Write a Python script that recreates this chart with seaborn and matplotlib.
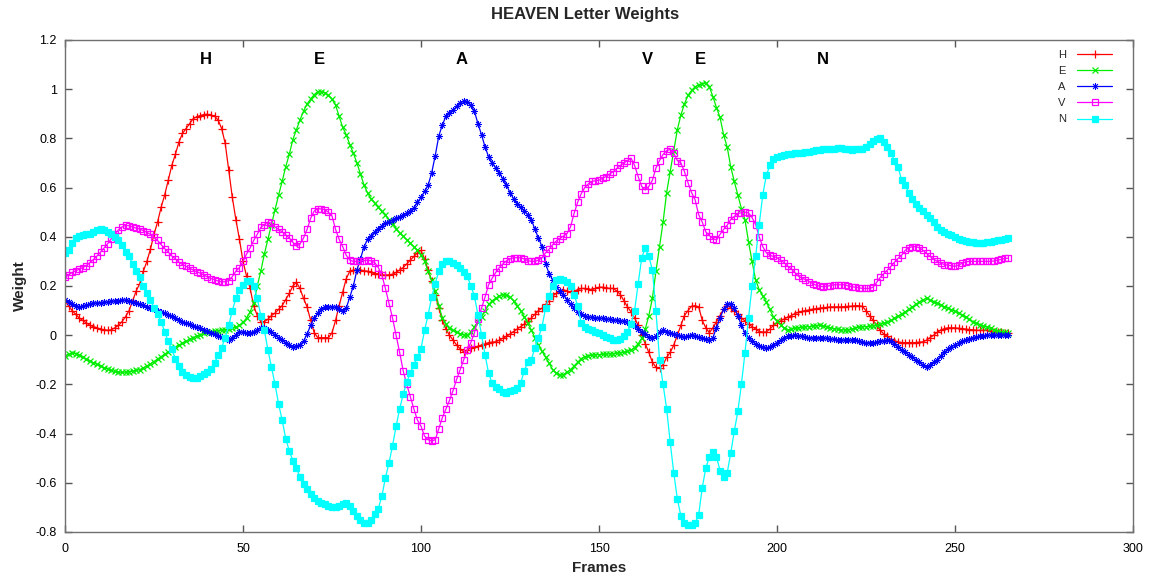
import numpy as np
import pandas as pd
import seaborn as sns
import matplotlib
matplotlib.use("Agg")
import matplotlib.pyplot as plt
from matplotlib.ticker import FuncFormatter

# ---- data: per-frame weight of each letter ----
frames = list(range(266))

weight_H = [
    0.14, 0.12, 0.10, 0.085, 0.07, 0.06, 0.05, 0.04, 0.035, 0.03,
    0.025, 0.022, 0.02, 0.022, 0.03, 0.04, 0.055, 0.075, 0.10, 0.14,
    0.18, 0.21, 0.26, 0.30, 0.35, 0.41, 0.46, 0.52, 0.57, 0.63,
    0.69, 0.735, 0.785, 0.82, 0.84, 0.86, 0.88, 0.888, 0.893, 0.897,
    0.898, 0.895, 0.89, 0.875, 0.84, 0.78, 0.67, 0.56, 0.47, 0.39,
    0.30, 0.24, 0.19, 0.12, 0.08, 0.055, 0.055, 0.065, 0.08, 0.09,
    0.105, 0.12, 0.145, 0.17, 0.2, 0.215, 0.19, 0.15, 0.115, 0.06,
    0.01, -0.01, -0.01, -0.01, -0.01, 0.01, 0.06, 0.12, 0.175, 0.23,
    0.26, 0.265, 0.265, 0.265, 0.262, 0.26, 0.255, 0.25, 0.25, 0.245,
    0.245, 0.245, 0.248, 0.255, 0.265, 0.275, 0.29, 0.305, 0.32, 0.335,
    0.345, 0.31, 0.265, 0.22, 0.165, 0.11, 0.06, 0.025, 0.0, -0.02,
    -0.04, -0.055, -0.068, -0.06, -0.05, -0.048, -0.045, -0.04, -0.035, -0.03,
    -0.028, -0.027, -0.02, -0.012, -0.005, 0.005, 0.015, 0.025, 0.035, 0.045,
    0.057, 0.07, 0.085, 0.10, 0.11, 0.125, 0.14, 0.16, 0.17, 0.18,
    0.185, 0.18, 0.175, 0.178, 0.185, 0.19, 0.19, 0.188, 0.185, 0.19,
    0.195, 0.195, 0.193, 0.19, 0.19, 0.18, 0.165, 0.14, 0.115, 0.095,
    0.07, 0.04, 0.0, -0.035, -0.07, -0.11, -0.13, -0.135, -0.12, -0.09,
    -0.07, -0.04, 0.0, 0.04, 0.08, 0.10, 0.118, 0.12, 0.115, 0.06,
    0.03, 0.01, 0.03, 0.055, 0.08, 0.105, 0.12, 0.112, 0.10, 0.085,
    0.07, 0.058, 0.045, 0.035, 0.025, 0.015, 0.013, 0.013, 0.025, 0.04,
    0.05, 0.058, 0.066, 0.073, 0.08, 0.088, 0.093, 0.097, 0.10, 0.103,
    0.106, 0.108, 0.11, 0.112, 0.113, 0.115, 0.115, 0.115, 0.115, 0.116,
    0.117, 0.118, 0.12, 0.12, 0.117, 0.10, 0.08, 0.06, 0.04, 0.02,
    0.005, -0.005, -0.017, -0.022, -0.027, -0.03, -0.03, -0.03, -0.03, -0.03,
    -0.028, -0.027, -0.02, -0.01, 0.0, 0.012, 0.02, 0.027, 0.03, 0.03,
    0.03, 0.028, 0.027, 0.025, 0.023, 0.022, 0.02, 0.02, 0.02, 0.02,
    0.018, 0.015, 0.013, 0.012, 0.01, 0.008,
]

weight_E = [
    -0.085, -0.078, -0.073, -0.075, -0.082, -0.09, -0.098, -0.105, -0.112, -0.118,
    -0.125, -0.132, -0.138, -0.143, -0.147, -0.15, -0.151, -0.15, -0.148, -0.146,
    -0.143, -0.14, -0.133, -0.125, -0.116, -0.107, -0.097, -0.087, -0.077, -0.068,
    -0.058, -0.049, -0.041, -0.033, -0.025, -0.017, -0.01, -0.004, 0.002, 0.007,
    0.011, 0.014, 0.017, 0.019, 0.021, 0.023, 0.025, 0.028, 0.032, 0.04,
    0.052, 0.07, 0.095, 0.13, 0.2, 0.26, 0.33, 0.39, 0.45, 0.51,
    0.57, 0.625, 0.685, 0.735, 0.795, 0.835, 0.875, 0.91, 0.94, 0.96,
    0.978, 0.99, 0.99, 0.985, 0.975, 0.96, 0.935, 0.89, 0.845, 0.815,
    0.775, 0.74, 0.70, 0.655, 0.61, 0.578, 0.555, 0.537, 0.52, 0.503,
    0.49, 0.47, 0.452, 0.433, 0.415, 0.402, 0.388, 0.374, 0.36, 0.345,
    0.325, 0.3, 0.26, 0.225, 0.18, 0.12, 0.07, 0.045, 0.03, 0.02,
    0.012, 0.006, 0.002, 0.0, 0.012, 0.035, 0.055, 0.075, 0.1, 0.125,
    0.14, 0.15, 0.16, 0.165, 0.163, 0.155, 0.14, 0.12, 0.1, 0.075,
    0.05, 0.02, -0.01, -0.04, -0.065, -0.09, -0.115, -0.14, -0.155, -0.162,
    -0.16, -0.15, -0.14, -0.125, -0.11, -0.095, -0.087, -0.083, -0.081, -0.08,
    -0.079, -0.078, -0.077, -0.076, -0.075, -0.073, -0.071, -0.069, -0.066, -0.06,
    -0.05, -0.035, -0.012, 0.025, 0.08, 0.15, 0.26, 0.36, 0.46, 0.58,
    0.665, 0.75, 0.835, 0.895, 0.94, 0.975, 0.995, 1.01, 1.018, 1.023,
    1.025, 1.01, 0.97, 0.925, 0.885, 0.815, 0.765, 0.685, 0.625, 0.57,
    0.515, 0.47, 0.38, 0.3, 0.225, 0.185, 0.16, 0.135, 0.105, 0.075,
    0.058, 0.042, 0.03, 0.022, 0.024, 0.028, 0.03, 0.032, 0.034, 0.035,
    0.037, 0.039, 0.04, 0.037, 0.033, 0.03, 0.027, 0.024, 0.022, 0.021,
    0.022, 0.025, 0.029, 0.033, 0.034, 0.035, 0.036, 0.038, 0.04, 0.044,
    0.048, 0.053, 0.06, 0.068, 0.077, 0.086, 0.095, 0.105, 0.115, 0.125,
    0.135, 0.143, 0.15, 0.143, 0.136, 0.13, 0.123, 0.116, 0.11, 0.104,
    0.097, 0.09, 0.082, 0.073, 0.064, 0.055, 0.049, 0.043, 0.038, 0.033,
    0.028, 0.022, 0.016, 0.013, 0.011, 0.01,
]

weight_A = [
    0.145, 0.135, 0.125, 0.117, 0.115, 0.118, 0.122, 0.126, 0.13, 0.131,
    0.132, 0.134, 0.135, 0.137, 0.139, 0.141, 0.143, 0.142, 0.14, 0.135,
    0.13, 0.126, 0.121, 0.116, 0.111, 0.106, 0.1, 0.095, 0.09, 0.084,
    0.077, 0.07, 0.062, 0.055, 0.05, 0.044, 0.038, 0.033, 0.028, 0.022,
    0.016, 0.01, 0.003, -0.004, -0.008, -0.012, -0.018, -0.01, 0.0, 0.012,
    0.012, 0.01, 0.009, 0.015, 0.022, 0.03, 0.028, 0.02, 0.013, 0.002,
    -0.01, -0.02, -0.03, -0.04, -0.047, -0.045, -0.038, -0.025, 0.005, 0.04,
    0.07, 0.09, 0.105, 0.113, 0.115, 0.115, 0.113, 0.105, 0.1, 0.11,
    0.155, 0.2, 0.265, 0.31, 0.36, 0.39, 0.405, 0.42, 0.432, 0.445,
    0.455, 0.462, 0.47, 0.476, 0.482, 0.488, 0.495, 0.505, 0.518, 0.54,
    0.56, 0.585, 0.61, 0.66, 0.73, 0.81, 0.855, 0.89, 0.905, 0.915,
    0.93, 0.943, 0.953, 0.95, 0.935, 0.91, 0.86, 0.815, 0.765, 0.725,
    0.7, 0.68, 0.66, 0.635, 0.61, 0.58, 0.555, 0.535, 0.52, 0.505,
    0.49, 0.47, 0.43, 0.395, 0.36, 0.29, 0.25, 0.225, 0.195, 0.18,
    0.165, 0.145, 0.125, 0.11, 0.095, 0.085, 0.077, 0.074, 0.072, 0.071,
    0.07, 0.068, 0.066, 0.065, 0.063, 0.061, 0.059, 0.057, 0.053, 0.047,
    0.038, 0.027, 0.015, 0.003, -0.006, -0.01, -0.005, 0.012, 0.02, 0.015,
    0.01, 0.006, 0.002, -0.004, -0.006, -0.003, 0.0, -0.004, -0.009, -0.012,
    -0.016, -0.02, -0.01, 0.03, 0.07, 0.105, 0.125, 0.128, 0.11, 0.08,
    0.04, 0.01, -0.01, -0.025, -0.035, -0.043, -0.049, -0.052, -0.048, -0.04,
    -0.03, -0.02, -0.01, -0.005, -0.002, 0.0, -0.002, -0.005, -0.008, -0.01,
    -0.01, -0.01, -0.01, -0.011, -0.013, -0.015, -0.017, -0.019, -0.02, -0.02,
    -0.02, -0.02, -0.021, -0.025, -0.028, -0.03, -0.03, -0.03, -0.028, -0.025,
    -0.022, -0.02, -0.025, -0.035, -0.047, -0.06, -0.07, -0.08, -0.09, -0.1,
    -0.11, -0.12, -0.128, -0.12, -0.11, -0.1, -0.085, -0.07, -0.058, -0.047,
    -0.038, -0.031, -0.025, -0.019, -0.014, -0.01, -0.007, -0.004, -0.002, 0.0,
    0.0, 0.0, 0.0, 0.0, 0.0, 0.0,
]

weight_V = [
    0.235, 0.245, 0.255, 0.262, 0.268, 0.275, 0.283, 0.295, 0.308, 0.322,
    0.338, 0.355, 0.372, 0.392, 0.412, 0.428, 0.44, 0.446, 0.445, 0.44,
    0.435, 0.432, 0.425, 0.418, 0.41, 0.398, 0.385, 0.368, 0.352, 0.338,
    0.322, 0.31, 0.297, 0.287, 0.28, 0.272, 0.265, 0.258, 0.252, 0.245,
    0.237, 0.23, 0.226, 0.22, 0.217, 0.217, 0.222, 0.238, 0.26, 0.275,
    0.3, 0.33, 0.355, 0.385, 0.41, 0.438, 0.45, 0.46, 0.455, 0.44,
    0.43, 0.42, 0.408, 0.395, 0.378, 0.362, 0.37, 0.395, 0.43, 0.475,
    0.505, 0.515, 0.513, 0.51, 0.5, 0.485, 0.43, 0.39, 0.36, 0.325,
    0.305, 0.3, 0.3, 0.3, 0.303, 0.305, 0.302, 0.295, 0.275, 0.245,
    0.19, 0.13, 0.07, 0.0, -0.07, -0.145, -0.2, -0.25, -0.3, -0.345,
    -0.37, -0.41, -0.425, -0.43, -0.425, -0.38, -0.335, -0.3, -0.265, -0.225,
    -0.18, -0.14, -0.1, -0.06, -0.03, 0.01, 0.065, 0.11, 0.155, 0.205,
    0.232, 0.255, 0.275, 0.29, 0.302, 0.31, 0.315, 0.315, 0.315, 0.31,
    0.303, 0.3, 0.3, 0.305, 0.315, 0.335, 0.35, 0.368, 0.383, 0.393,
    0.403, 0.413, 0.44, 0.495, 0.54, 0.575, 0.6, 0.615, 0.625, 0.628,
    0.63, 0.638, 0.645, 0.655, 0.665, 0.678, 0.69, 0.7, 0.71, 0.72,
    0.69, 0.645, 0.605, 0.59, 0.605, 0.63, 0.68, 0.71, 0.735, 0.75,
    0.755, 0.74, 0.71, 0.7, 0.665, 0.62, 0.58, 0.55, 0.49, 0.46,
    0.42, 0.405, 0.393, 0.387, 0.41, 0.43, 0.447, 0.47, 0.483, 0.495,
    0.498, 0.5, 0.497, 0.478, 0.45, 0.4, 0.36, 0.335, 0.325, 0.32,
    0.315, 0.305, 0.295, 0.28, 0.27, 0.255, 0.24, 0.232, 0.226, 0.218,
    0.21, 0.203, 0.199, 0.197, 0.199, 0.202, 0.205, 0.205, 0.205, 0.205,
    0.2, 0.197, 0.195, 0.193, 0.19, 0.19, 0.19, 0.195, 0.215, 0.235,
    0.25, 0.265, 0.28, 0.297, 0.312, 0.325, 0.345, 0.355, 0.36, 0.36,
    0.355, 0.345, 0.333, 0.32, 0.31, 0.3, 0.293, 0.287, 0.285, 0.282,
    0.28, 0.285, 0.292, 0.298, 0.3, 0.3, 0.3, 0.3, 0.3, 0.3,
    0.3, 0.302, 0.305, 0.308, 0.312, 0.313,
]

weight_N = [
    0.335, 0.345, 0.375, 0.395, 0.405, 0.408, 0.41, 0.413, 0.418, 0.428,
    0.433, 0.428, 0.42, 0.413, 0.4, 0.385, 0.365, 0.34, 0.32, 0.29,
    0.26, 0.235, 0.2, 0.17, 0.145, 0.11, 0.085, 0.055, 0.015, -0.025,
    -0.057, -0.095, -0.125, -0.148, -0.16, -0.168, -0.174, -0.172, -0.165, -0.157,
    -0.15, -0.138, -0.115, -0.08, -0.05, -0.01, 0.04, 0.1, 0.15, 0.185,
    0.205, 0.22, 0.22, 0.2, 0.15, 0.08, 0.02, -0.06, -0.13, -0.2,
    -0.28, -0.345, -0.42, -0.47, -0.51, -0.54, -0.575, -0.605, -0.625, -0.645,
    -0.66, -0.675, -0.683, -0.688, -0.693, -0.697, -0.7, -0.695, -0.688, -0.683,
    -0.695, -0.715, -0.735, -0.752, -0.762, -0.765, -0.75, -0.725, -0.705, -0.655,
    -0.58, -0.52, -0.45, -0.37, -0.3, -0.24, -0.19, -0.155, -0.12, -0.09,
    -0.055, 0.02, 0.082, 0.155, 0.21, 0.26, 0.29, 0.303, 0.302, 0.295,
    0.285, 0.272, 0.258, 0.24, 0.2, 0.16, 0.082, 0.0, -0.08, -0.155,
    -0.195, -0.21, -0.22, -0.232, -0.235, -0.228, -0.222, -0.215, -0.195, -0.145,
    -0.11, -0.1, -0.05, -0.01, 0.035, 0.11, 0.16, 0.2, 0.225, 0.23,
    0.225, 0.215, 0.2, 0.165, 0.12, 0.05, 0.035, 0.027, 0.02, 0.015,
    0.009, 0.002, -0.007, -0.013, -0.018, -0.02, -0.015, -0.005, 0.015, 0.045,
    0.1, 0.21, 0.315, 0.355, 0.32, 0.265, 0.1, -0.1, -0.2, -0.3,
    -0.435, -0.56, -0.665, -0.735, -0.765, -0.772, -0.772, -0.765, -0.73, -0.62,
    -0.54, -0.495, -0.475, -0.495, -0.55, -0.575, -0.56, -0.48, -0.39, -0.31,
    -0.2, -0.072, 0.07, 0.2, 0.32, 0.45, 0.57, 0.65, 0.69, 0.715,
    0.725, 0.73, 0.732, 0.735, 0.737, 0.739, 0.74, 0.742, 0.744, 0.745,
    0.748, 0.751, 0.754, 0.755, 0.755, 0.756, 0.758, 0.76, 0.76, 0.758,
    0.755, 0.754, 0.755, 0.756, 0.758, 0.765, 0.778, 0.79, 0.797, 0.8,
    0.785, 0.765, 0.74, 0.71, 0.685, 0.63, 0.61, 0.58, 0.555, 0.533,
    0.518, 0.505, 0.49, 0.477, 0.462, 0.44, 0.427, 0.418, 0.413, 0.408,
    0.398, 0.39, 0.385, 0.382, 0.38, 0.378, 0.376, 0.375, 0.376, 0.378,
    0.38, 0.383, 0.386, 0.389, 0.392, 0.395,
]

series_names = ["H", "E", "A", "V", "N"]
series_values = [weight_H, weight_E, weight_A, weight_V, weight_N]

# letter labels placed over each letter's peak (frame, weight)
letter_text = ["H", "E", "A", "V", "E", "N"]
letter_frame = [39.5, 71.5, 111.5, 163.5, 178.5, 213.0]
letter_y = [1.12, 1.12, 1.12, 1.12, 1.12, 1.12]

x_ticks = [0, 50, 100, 150, 200, 250, 300]
y_ticks = [-0.8, -0.6, -0.4, -0.2, 0, 0.2, 0.4, 0.6, 0.8, 1.0, 1.2]

# ---- style ----
sns.set_theme(style="ticks")
plt.rcParams["font.family"] = ["Liberation Sans", "DejaVu Sans"]

line_styles = {
    "H": dict(color="#ff0000", marker="+", markersize=6, mfc="none", mew=0.9),
    "E": dict(color="#00ee00", marker="x", markersize=5, mfc="none", mew=0.9),
    "A": dict(color="#0000ff", marker=(8, 2, 0), markersize=5, mfc="none", mew=0.6),
    "V": dict(color="#ff00ff", marker="s", markersize=4.5, mfc="none", mew=0.9),
    "N": dict(color="#00ffff", marker="s", markersize=4.5, mfc="#00ffff", mew=0.9),
}

fig = plt.figure(figsize=(11.55, 5.82), dpi=100)
ax = fig.add_axes([65 / 1155, 1 - 532 / 582, 1068 / 1155, 492 / 582])

for name, vals in zip(series_names, series_values):
    st = line_styles[name]
    df = pd.DataFrame({"Frames": frames, "Weight": vals})
    sns.lineplot(
        data=df, x="Frames", y="Weight", ax=ax, label=name,
        color=st["color"], linewidth=0.9,
        marker=st["marker"], markersize=st["markersize"],
        markerfacecolor=st["mfc"], markeredgecolor=st["color"],
        markeredgewidth=st["mew"],
    )

for txt, fx, fy in zip(letter_text, letter_frame, letter_y):
    ax.text(fx, fy, txt, ha="center", va="center",
            fontsize=12, fontweight="bold", color="black")

ax.set_xlim(0, 300)
ax.set_ylim(-0.8, 1.2)
ax.set_xticks(x_ticks)
ax.set_yticks(y_ticks)
ax.xaxis.set_major_formatter(FuncFormatter(lambda v, p: f"{round(v, 1):g}"))
ax.yaxis.set_major_formatter(FuncFormatter(lambda v, p: f"{round(v, 1):g}"))
ax.tick_params(direction="in", length=5, width=1, top=True, right=True,
               labelsize=9, colors="#555555", labelcolor="black")
ax.tick_params(axis="x", pad=8)
ax.tick_params(axis="y", pad=6)
for sp in ax.spines.values():
    sp.set_color("#707070")
    sp.set_linewidth(1)

ax.set_xlabel("Frames", fontsize=11, fontweight="bold", labelpad=4)
ax.set_ylabel("Weight", fontsize=11, fontweight="bold", labelpad=6)
fig.text(585 / 1155, 1 - 14 / 582, "HEAVEN Letter Weights", ha="center",
         va="center", fontsize=12, fontweight="bold")

ax.legend(loc="upper right", bbox_to_anchor=(0.99, 1.0), frameon=False,
          markerfirst=False, fontsize=8, handlelength=3.2,
          labelspacing=0.55, handletextpad=1.0)

fig.savefig("out.png", dpi=100)
